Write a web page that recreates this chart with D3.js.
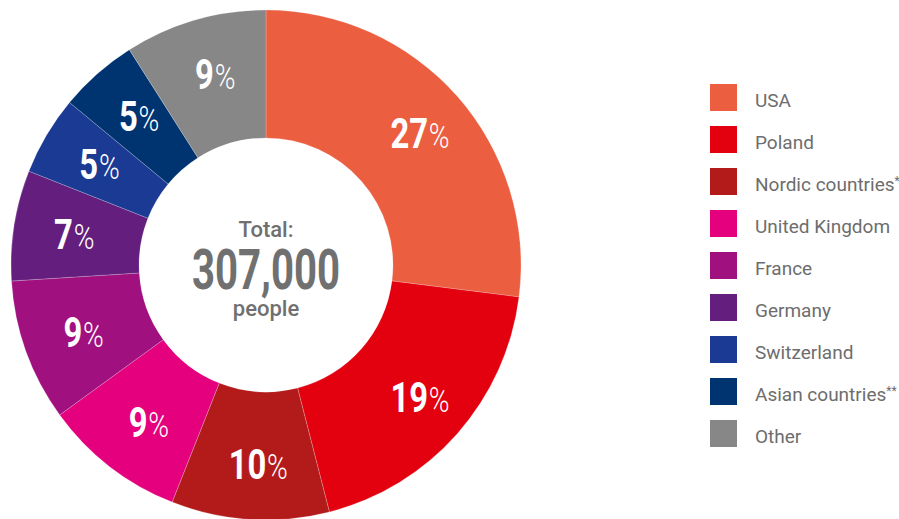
<!DOCTYPE html>
<html>
<head>
<meta charset="utf-8">
<script src="https://cdn.jsdelivr.net/npm/d3@7.9.0/dist/d3.min.js"></script>
<style>
  body { margin: 0; background: #fff; }
  svg { display: block; }
</style>
</head>
<body>
<svg id="chart" width="899" height="519"></svg>
<script>
  // Data
  const countries = ["USA", "Poland", "Nordic countries", "United Kingdom", "France", "Germany", "Switzerland", "Asian countries", "Other"];
  const marks = ["", "", "*", "", "", "", "", "**", ""];
  const shares = [27, 19, 10, 9, 9, 7, 5, 5, 9];
  const colors = ["#eb5e40", "#e3000f", "#b31b1b", "#e5007e", "#a0117f", "#641e7e", "#1a3a93", "#003470", "#878787"];
  const totalLabel = "307,000";

  const data = countries.map((c, i) => ({ name: c, mark: marks[i], value: shares[i], color: colors[i] }));

  const svg = d3.select("#chart");
  const cx = 266, cy = 265, outerR = 255, innerR = 127;

  const g = svg.append("g").attr("transform", `translate(${cx},${cy})`);

  const pie = d3.pie().value(d => d.value).sort(null);
  const arc = d3.arc().innerRadius(innerR).outerRadius(outerR);
  const labelArc = d3.arc().innerRadius(199).outerRadius(199);

  const arcs = pie(data);

  // Slices
  g.selectAll("path")
    .data(arcs)
    .enter()
    .append("path")
    .attr("d", arc)
    .attr("fill", d => d.data.color)
    .attr("stroke", "#ffffff")
    .attr("stroke-opacity", 0.35)
    .attr("stroke-width", 0.6);

  // Percent labels (condensed look: Roboto squeezed horizontally)
  const labels = g.selectAll("text.pct")
    .data(arcs)
    .enter()
    .append("text")
    .attr("class", "pct")
    .attr("transform", d => {
      const [x, y] = labelArc.centroid(d);
      return `translate(${x + 4},${y + 15}) scale(0.78,1)`;
    })
    .attr("text-anchor", "middle")
    .style("fill", "#fff")
    .style("font-family", "Roboto, sans-serif");

  labels.append("tspan")
    .style("font-weight", "bold")
    .style("font-size", "42px")
    .text(d => d.data.value);
  labels.append("tspan")
    .attr("dx", 1)
    .style("font-weight", "300")
    .style("font-size", "36px")
    .style("letter-spacing", "-2px")
    .text("%");

  // Center text
  g.append("text")
    .attr("text-anchor", "middle")
    .attr("y", -28)
    .style("font-family", "Roboto, sans-serif")
    .style("font-weight", "500")
    .style("font-size", "22px")
    .style("fill", "#707070")
    .text("Total:");

  g.append("text")
    .attr("text-anchor", "middle")
    .attr("transform", "translate(0,24) scale(0.73,1)")
    .style("font-family", "Roboto, sans-serif")
    .style("font-weight", "bold")
    .style("font-size", "55px")
    .style("fill", "#707070")
    .text(totalLabel);

  g.append("text")
    .attr("text-anchor", "middle")
    .attr("y", 51)
    .style("font-family", "Roboto, sans-serif")
    .style("font-weight", "500")
    .style("font-size", "22px")
    .style("fill", "#707070")
    .text("people");

  // Legend
  const legendY = d3.scaleBand()
    .domain(countries)
    .range([84, 84 + 42 * countries.length])
    .paddingInner(0);

  const legend = svg.append("g").attr("transform", "translate(710,0)");
  const item = legend.selectAll("g")
    .data(data)
    .enter()
    .append("g")
    .attr("transform", d => `translate(0,${legendY(d.name)})`);

  item.append("rect")
    .attr("width", 27)
    .attr("height", 27)
    .attr("fill", d => d.color);

  const lt = item.append("text")
    .attr("x", 45)
    .attr("y", 23)
    .style("font-family", "Roboto, sans-serif")
    .style("font-size", "19px")
    .style("fill", "#6d6d6d");
  lt.append("tspan").text(d => d.name);
  lt.append("tspan")
    .attr("dy", -6)
    .style("font-size", "12px")
    .text(d => d.mark);
</script>
</body>
</html>
